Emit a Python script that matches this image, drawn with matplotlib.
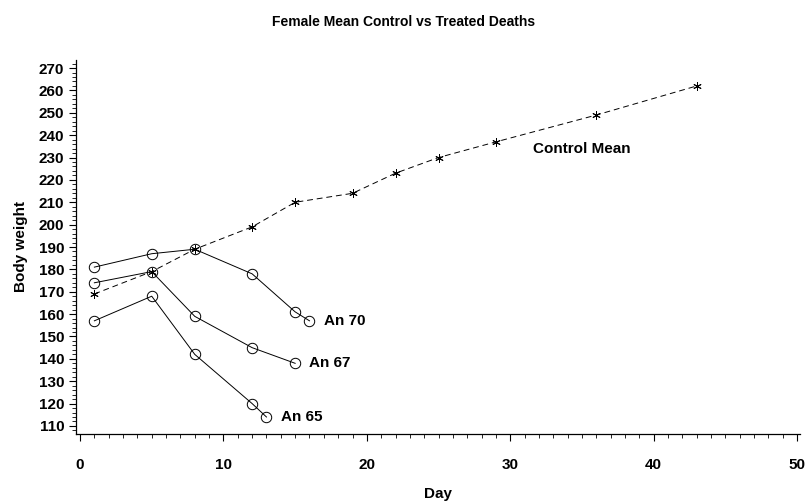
import matplotlib.pyplot as plt
from matplotlib.ticker import MultipleLocator

plt.rcParams['font.family'] = ['Liberation Sans Narrow', 'Liberation Sans', 'DejaVu Sans']

# control group mean body weight
control_days = [1, 5, 8, 12, 15, 19, 22, 25, 29, 36, 43]
control_wt = [169, 179, 189, 199, 210, 214, 223, 230, 237, 249, 262]

# treated animals that died
an70_days = [1, 5, 8, 12, 15, 16]
an70_wt = [181, 187, 189, 178, 161, 157]
an67_days = [1, 5, 8, 12, 15]
an67_wt = [174, 179, 159, 145, 138]
an65_days = [1, 5, 8, 12, 13]
an65_wt = [157, 168, 142, 120, 114]

fig = plt.figure(figsize=(8.07, 5.04), dpi=100)
ax = fig.add_axes([76 / 807, 1 - 434 / 504, 724 / 807, 374 / 504])

ax.plot(control_days, control_wt, color='black', lw=0.7, ls=(0, (6, 4)),
        marker=(6, 2, 0), ms=6, mew=0.7)
for d, w in [(an70_days, an70_wt), (an67_days, an67_wt), (an65_days, an65_wt)]:
    ax.plot(d, w, color='black', lw=0.7, marker='o', ms=7.5, mfc='none', mew=0.7)

txt = dict(fontsize=11, fontweight='bold', va='center', ha='left')
ax.text(an70_days[-1] + 1, an70_wt[-1], 'An 70', **txt)
ax.text(an67_days[-1] + 1, an67_wt[-1], 'An 67', **txt)
ax.text(an65_days[-1] + 1, an65_wt[-1], 'An 65', **txt)
ax.text(31.6, 234, 'Control Mean', **txt)

ax.set_xlim(-0.28, 50.2)
ax.set_ylim(106.4, 273.6)
ax.xaxis.set_major_locator(MultipleLocator(10))
ax.xaxis.set_minor_locator(MultipleLocator(1))
ax.yaxis.set_major_locator(MultipleLocator(10))
ax.yaxis.set_minor_locator(MultipleLocator(2))
ax.tick_params(axis='both', which='major', labelsize=11, width=0.8, length=5)
ax.tick_params(axis='both', which='minor', width=0.6, length=3)
ax.tick_params(axis='x', pad=12)
for lab in ax.get_xticklabels() + ax.get_yticklabels():
    lab.set_fontweight('bold')

for s in ['top', 'right']:
    ax.spines[s].set_visible(False)
for s in ['left', 'bottom']:
    ax.spines[s].set_linewidth(0.9)

ax.set_xlabel('Day', fontsize=11, fontweight='bold', labelpad=11)
ax.set_ylabel('Body weight', fontsize=11, fontweight='bold', labelpad=8)
fig.suptitle('Female Mean Control vs Treated Deaths', fontsize=10, fontweight='bold', y=0.97)

fig.savefig('out.png', dpi=100)
